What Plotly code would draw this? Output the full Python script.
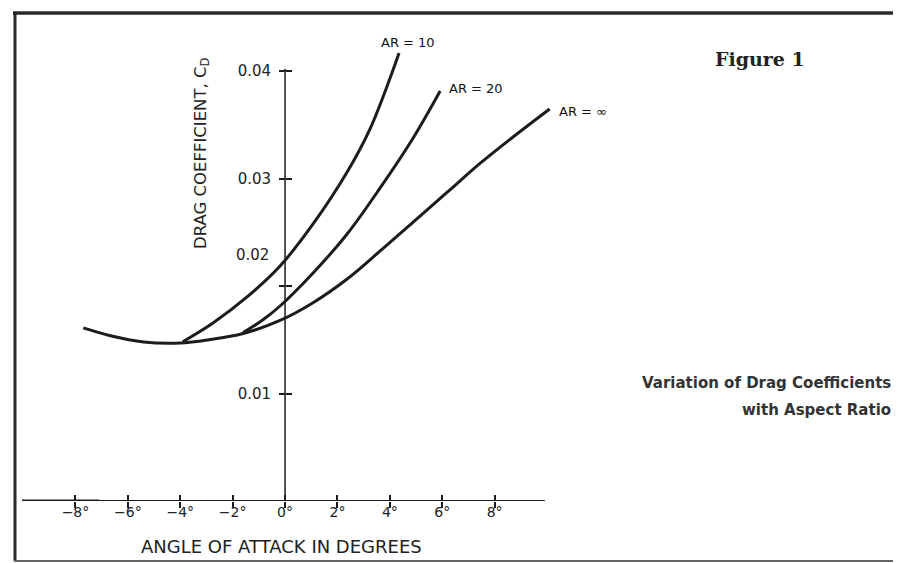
import plotly.graph_objects as go

# ---------------- data ----------------
# AR = infinity (also the common lower branch)
ar_inf_x = [-7.7, -6.7, -5.4, -4.0, -2.9, -1.6, -0.19, 1.07, 2.37, 3.63, 4.89, 6.18, 7.44, 8.7, 10.1]
ar_inf_y = [0.0161, 0.0154, 0.0148, 0.0147, 0.0150, 0.01558, 0.01680, 0.01845, 0.02065, 0.02326, 0.02595, 0.02870, 0.03140, 0.03386, 0.03647]

# AR = 20
ar20_x = [-1.6, -0.88, -0.19, 1.07, 2.37, 3.63, 4.89, 5.92]
ar20_y = [0.01567, 0.01679, 0.01814, 0.02121, 0.02484, 0.02912, 0.03377, 0.03814]

# AR = 10
ar10_x = [-3.9, -2.75, -1.45, -0.19, 1.07, 2.37, 3.24, 4.01, 4.35]
ar10_y = [0.01482, 0.01656, 0.01898, 0.02186, 0.02577, 0.03060, 0.03460, 0.03935, 0.04167]

series_names = ["AR = \u221e", "AR = 20", "AR = 10"]

x_tick_vals = [-8, -6, -4, -2, 0, 2, 4, 6, 8]
x_tick_text = ["\u22128\u00b0", "\u22126\u00b0", "\u22124\u00b0", "\u22122\u00b0", "0\u00b0", "2\u00b0", "4\u00b0", "6\u00b0", "8\u00b0"]
y_tick_vals = [0.01, 0.02, 0.03, 0.04]
y_tick_text = ["0.01", "0.02", "0.03", "0.04"]

x_title = "ANGLE OF ATTACK IN DEGREES"
y_title = "DRAG COEFFICIENT, C<sub>D</sub>"
fig_title = "Figure 1"
caption = ["Variation of Drag Coefficients", "with Aspect Ratio"]

# ---------------- layout geometry ----------------
OFF = 8                      # page body margin offset
W, H = 901 - OFF, 563 - OFF
PLOT_L, PLOT_R, PLOT_T, PLOT_B = 22, 600, 30, 501   # in page pixels
ML, MT = PLOT_L - OFF, PLOT_T - OFF
MR = W - (PLOT_R - OFF)
MB = H - (PLOT_B - OFF)
PW, PH = PLOT_R - PLOT_L, PLOT_B - PLOT_T
X_MIN = -10.04
X_MAX = X_MIN + PW / 26.2
Y_MAX = PH / 10750.0
Y_AXIS_POS = (0 - X_MIN) / (X_MAX - X_MIN)
X_AXIS_END = 9.92
Y_AXIS_TOP = 0.0402


def px(xp):
    return (xp - PLOT_L) / PW


def py(yp):
    return (PLOT_B - yp) / PH


INK = "#1c1c1c"
FONT = "DejaVu Sans"

fig = go.Figure()
for xs, ys, nm in [(ar_inf_x, ar_inf_y, series_names[0]),
                   (ar20_x, ar20_y, series_names[1]),
                   (ar10_x, ar10_y, series_names[2])]:
    fig.add_trace(go.Scatter(x=xs, y=ys, mode="lines", name=nm,
                             line=dict(color=INK, width=3, shape="spline", smoothing=1.0),
                             showlegend=False, hoverinfo="skip"))

# empty traces that carry the overlay axes (cross-tick halves)
fig.add_trace(go.Scatter(x=[], y=[], xaxis="x2", yaxis="y", showlegend=False, hoverinfo="skip"))
fig.add_trace(go.Scatter(x=[], y=[], xaxis="x", yaxis="y2", showlegend=False, hoverinfo="skip"))

tick_common = dict(tickcolor=INK, tickwidth=1.5, ticklen=6, showgrid=False,
                   zeroline=False, showline=False)

# the 0.02 label sits above its tick in the original, so it is drawn separately
y_tick_text_axis = [t if v != 0.02 else "" for v, t in zip(y_tick_vals, y_tick_text)]

fig.update_layout(
    width=W, height=H,
    margin=dict(l=ML, r=MR, t=MT, b=MB),
    paper_bgcolor="white", plot_bgcolor="white",
    xaxis=dict(range=[X_MIN, X_MAX], tickvals=x_tick_vals, ticktext=x_tick_text,
               ticks="inside", anchor="y", ticklabelstandoff=1,
               tickfont=dict(family=FONT, size=14, color="#222"), **tick_common),
    xaxis2=dict(range=[X_MIN, X_MAX], overlaying="x", anchor="y", side="bottom",
                tickvals=x_tick_vals, ticks="outside", showticklabels=False, **tick_common),
    yaxis=dict(range=[0, Y_MAX], anchor="free", position=Y_AXIS_POS, side="left",
               tickvals=y_tick_vals, ticktext=y_tick_text_axis, ticks="outside",
               ticklabelstandoff=5,
               tickfont=dict(family=FONT, size=15, color="#222"), **tick_common),
    yaxis2=dict(range=[0, Y_MAX], overlaying="y", anchor="free", position=Y_AXIS_POS,
                side="left", tickvals=y_tick_vals, ticks="inside",
                showticklabels=False, **tick_common),
)

shapes = [
    # x axis baseline
    dict(type="line", xref="x", yref="y", x0=X_MIN, x1=X_AXIS_END, y0=0, y1=0,
         line=dict(color=INK, width=2)),
    dict(type="line", xref="x", yref="y", x0=X_MIN, x1=-7.1, y0=0, y1=0,
         line=dict(color=INK, width=3)),
    # y axis line
    dict(type="line", xref="x", yref="y", x0=0, x1=0, y0=0, y1=Y_AXIS_TOP,
         line=dict(color=INK, width=1.5)),
    # frame
    dict(type="line", xref="paper", yref="paper", x0=px(13), x1=px(901), y0=py(13), y1=py(13),
         line=dict(color="#2a2a2a", width=3.5)),
    dict(type="line", xref="paper", yref="paper", x0=px(15), x1=px(15), y0=py(12), y1=py(561),
         line=dict(color="#2a2a2a", width=3)),
    dict(type="line", xref="paper", yref="paper", x0=px(14), x1=px(901), y0=py(561), y1=py(561),
         line=dict(color="#666", width=2)),
]
fig.update_layout(shapes=shapes)

ann = []
# 0.02 tick label (raised above its tick, as in the original)
ann.append(dict(x=0, y=0.02, xref="x", yref="y", text=y_tick_text[1], showarrow=False,
                xanchor="right", yanchor="middle", xshift=-14, yshift=31,
                font=dict(family=FONT, size=15, color="#222")))
# curve labels at curve ends
ann.append(dict(x=ar10_x[-1], y=ar10_y[-1], xref="x", yref="y", text=series_names[2],
                showarrow=False, xanchor="center", yanchor="middle", xshift=9, yshift=11,
                font=dict(family=FONT, size=13, color="#111")))
ann.append(dict(x=ar20_x[-1], y=ar20_y[-1], xref="x", yref="y", text=series_names[1],
                showarrow=False, xanchor="left", yanchor="middle", xshift=7, yshift=3,
                font=dict(family=FONT, size=13, color="#111")))
ann.append(dict(x=ar_inf_x[-1], y=ar_inf_y[-1], xref="x", yref="y", text=series_names[0],
                showarrow=False, xanchor="left", yanchor="middle", xshift=7, yshift=-3,
                font=dict(family=FONT, size=13, color="#111")))
# axis titles
ann.append(dict(x=px(281), y=py(546), xref="paper", yref="paper", text=x_title,
                showarrow=False, xanchor="center", yanchor="middle",
                font=dict(family=FONT, size=18, color="#222")))
ann.append(dict(x=px(201), y=py(153), xref="paper", yref="paper", text=y_title,
                showarrow=False, xanchor="center", yanchor="middle", textangle=-90,
                font=dict(family=FONT, size=16.5, color="#222")))
# figure title and caption
ann.append(dict(x=px(760), y=py(59), xref="paper", yref="paper", text="<b>" + fig_title + "</b>",
                showarrow=False, xanchor="center", yanchor="middle",
                font=dict(family="DejaVu Serif", size=19, color="#222")))
ann.append(dict(x=px(893), y=py(383), xref="paper", yref="paper", text="<b>" + caption[0] + "</b>",
                showarrow=False, xanchor="right", yanchor="middle",
                font=dict(family=FONT, size=15, color="#333")))
ann.append(dict(x=px(893), y=py(410), xref="paper", yref="paper", text="<b>" + caption[1] + "</b>",
                showarrow=False, xanchor="right", yanchor="middle",
                font=dict(family=FONT, size=15, color="#333")))
fig.update_layout(annotations=ann)

fig.write_html("out.html")
